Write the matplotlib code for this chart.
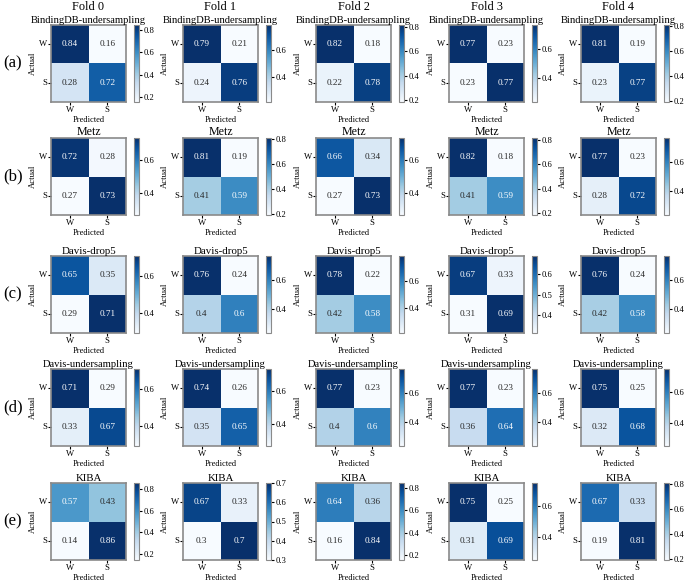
import numpy as np
import matplotlib
matplotlib.use("Agg")
import matplotlib.pyplot as plt
import seaborn as sns

plt.rcParams['font.family'] = ['Liberation Serif', 'DejaVu Serif']

# data: normalised confusion matrices, rows = datasets, cols = folds
datasets = ["BindingDB-undersampling", "Metz", "Davis-drop5", "Davis-undersampling", "KIBA"]
row_tags = ["(a)", "(b)", "(c)", "(d)", "(e)"]
folds = ["Fold 0", "Fold 1", "Fold 2", "Fold 3", "Fold 4"]
classes = ["W", "S"]

bindingdb = [[[0.84, 0.16], [0.28, 0.72]],
             [[0.79, 0.21], [0.24, 0.76]],
             [[0.82, 0.18], [0.22, 0.78]],
             [[0.77, 0.23], [0.23, 0.77]],
             [[0.81, 0.19], [0.23, 0.77]]]
metz = [[[0.72, 0.28], [0.27, 0.73]],
        [[0.81, 0.19], [0.41, 0.59]],
        [[0.66, 0.34], [0.27, 0.73]],
        [[0.82, 0.18], [0.41, 0.59]],
        [[0.77, 0.23], [0.28, 0.72]]]
davis_drop5 = [[[0.65, 0.35], [0.29, 0.71]],
               [[0.76, 0.24], [0.4, 0.6]],
               [[0.78, 0.22], [0.42, 0.58]],
               [[0.67, 0.33], [0.31, 0.69]],
               [[0.76, 0.24], [0.42, 0.58]]]
davis_under = [[[0.71, 0.29], [0.33, 0.67]],
               [[0.74, 0.26], [0.35, 0.65]],
               [[0.77, 0.23], [0.4, 0.6]],
               [[0.77, 0.23], [0.36, 0.64]],
               [[0.75, 0.25], [0.32, 0.68]]]
kiba = [[[0.57, 0.43], [0.14, 0.86]],
        [[0.67, 0.33], [0.3, 0.7]],
        [[0.64, 0.36], [0.16, 0.84]],
        [[0.75, 0.25], [0.31, 0.69]],
        [[0.67, 0.33], [0.19, 0.81]]]
all_data = [bindingdb, metz, davis_drop5, davis_under, kiba]

W, H = 685, 583
fig = plt.figure(figsize=(W / 100, H / 100), dpi=100)

# layout in pixels
col_left = [51, 183, 316, 449, 581]
row_top = [25, 138, 256, 369, 483]
hm_w, hm_h = 75, 77
cb_gap, cb_w = 8, 5
edge = '#8a8a8a'
title_size = [7.6, 8.6, 7.8, 7.6, 7.8]


def px_box(x, y, w, h):
    return [x / W, 1 - (y + h) / H, w / W, h / H]


for i, ds in enumerate(datasets):
    for j in range(5):
        mat = np.array(all_data[i][j])
        x0, y0 = col_left[j], row_top[i]
        ax = fig.add_axes(px_box(x0, y0, hm_w, hm_h))
        cax = fig.add_axes(px_box(x0 + hm_w + cb_gap, y0, cb_w, hm_h))
        sns.heatmap(mat, annot=True, cmap='Blues', ax=ax, cbar_ax=cax,
                    xticklabels=classes, yticklabels=classes,
                    annot_kws={'fontsize': 6.6})
        ax.set_title(ds, fontsize=title_size[i], pad=1.5)
        ax.set_xlabel("Predicted", fontsize=6, labelpad=1)
        ax.set_ylabel("Actual", fontsize=6.2, labelpad=1)
        ax.tick_params(labelsize=6.2, length=2, pad=1, colors='black')
        ax.set_yticklabels(classes, rotation=0)
        for s in ax.spines.values():
            s.set_visible(True)
            s.set_color(edge)
            s.set_linewidth(1.2)
        cax.tick_params(labelsize=6.2, length=2, pad=1)
        cb = ax.collections[0].colorbar
        cb.outline.set_edgecolor(edge)
        cb.outline.set_linewidth(0.8)
        if i == 0:
            fig.text((x0 + hm_w / 2) / W, 1 - 7 / H, folds[j], ha='center',
                     va='center', fontsize=8.8)
    fig.text(13 / W, 1 - (row_top[i] + hm_h / 2) / H, row_tags[i],
             ha='center', va='center', fontsize=12)

fig.savefig("out.png", dpi=100)
